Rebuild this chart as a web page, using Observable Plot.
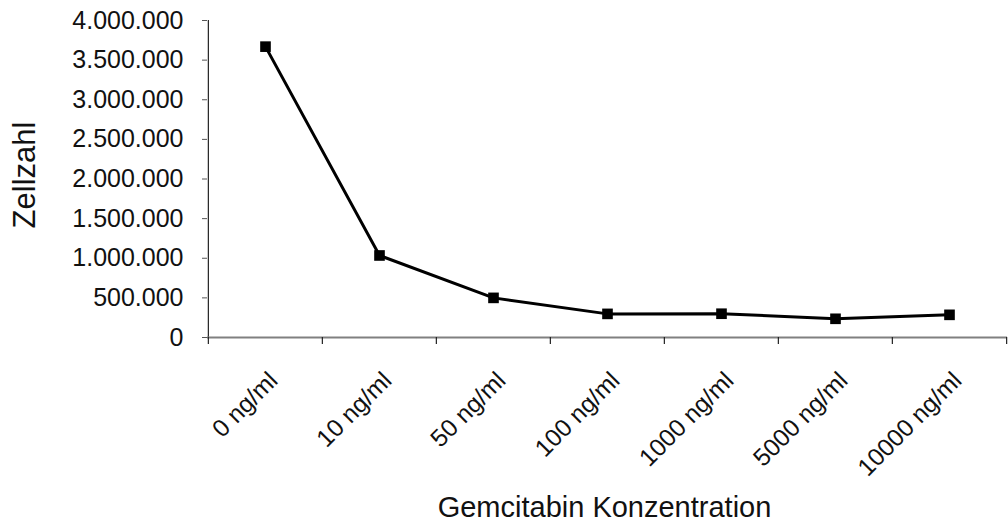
<!DOCTYPE html>
<html>
<head>
<meta charset="utf-8">
<script src="https://cdn.jsdelivr.net/npm/d3@7"></script>
<script src="https://cdn.jsdelivr.net/npm/@observablehq/plot@0.6"></script>
<style>
  html, body { margin: 0; padding: 0; background: #fff; }
</style>
</head>
<body>
<div id="chart"></div>
<script>
const categories = ["0 ng/ml", "10 ng/ml", "50 ng/ml", "100 ng/ml", "1000 ng/ml", "5000 ng/ml", "10000 ng/ml"];
const cellCounts = [3670000, 1035000, 500000, 298000, 300000, 236000, 286000];
const yTickValues = [0, 500000, 1000000, 1500000, 2000000, 2500000, 3000000, 3500000, 4000000];
const xTitle = "Gemcitabin Konzentration";
const yTitle = "Zellzahl";

const data = categories.map((c, i) => ({cat: c, value: cellCounts[i]}));

const W = 1008, H = 525;
const mL = 207, mR = 1, mT = 20, mB = 188;
const step = (W - mL - mR) / categories.length;
const frameH = H - mT - mB;

const de = d3.formatLocale({decimal: ",", thousands: ".", grouping: [3], currency: ["", " €"]});
const fmt = de.format(",.0f");

const font = "'Liberation Sans', Arial, Helvetica, sans-serif";

const chart = Plot.plot({
  width: W,
  height: H,
  marginLeft: mL,
  marginRight: mR,
  marginTop: mT,
  marginBottom: mB,
  style: {fontFamily: font, fontSize: "25px", color: "#111", background: "#fff"},
  x: {type: "point", domain: categories, padding: 0.5, axis: null},
  y: {domain: [0, 4000000], axis: null},
  marks: [
    // y axis ticks + labels
    Plot.axisY(yTickValues, {tickSize: 5, tickPadding: 19, tickFormat: fmt, stroke: "#555", fill: "#111", label: null, fontSize: 25}),
    // y axis line (left frame boundary)
    Plot.ruleX(categories.slice(0, 1), {x: d => d, dx: -step / 2, stroke: "#222", strokeWidth: 1.2}),
    // x axis line
    Plot.ruleY([0], {stroke: "#808080", strokeWidth: 2.2}),
    // category boundary tick marks
    Plot.ruleX(categories, {x: d => d, dx: -step / 2, insetTop: frameH, insetBottom: -7, stroke: "#222", strokeWidth: 1.2}),
    Plot.ruleX(categories.slice(-1), {x: d => d, dx: step / 2, insetTop: frameH, insetBottom: -7, stroke: "#222", strokeWidth: 1.2}),
    // category labels
    Plot.text(categories, {x: d => d, frameAnchor: "bottom", rotate: -45, textAnchor: "end", lineAnchor: "middle", dx: 8, dy: 39, fontSize: 24.5, fill: "#111"}),
    // data
    Plot.line(data, {x: "cat", y: "value", stroke: "#000", strokeWidth: 3}),
    Plot.dot(data, {x: "cat", y: "value", symbol: "square", r: 6, fill: "#000", stroke: "none"}),
    // axis titles
    Plot.text([xTitle], {text: d => d, frameAnchor: "bottom", textAnchor: "middle", dx: -3, dy: 170, fontSize: 29, fill: "#111", lineAnchor: "middle"}),
    Plot.text([yTitle], {text: d => d, frameAnchor: "left", textAnchor: "middle", rotate: -90, dx: -182, dy: -4, fontSize: 31, fill: "#111", lineAnchor: "middle"})
  ]
});

document.getElementById("chart").appendChild(chart);
</script>
</body>
</html>
